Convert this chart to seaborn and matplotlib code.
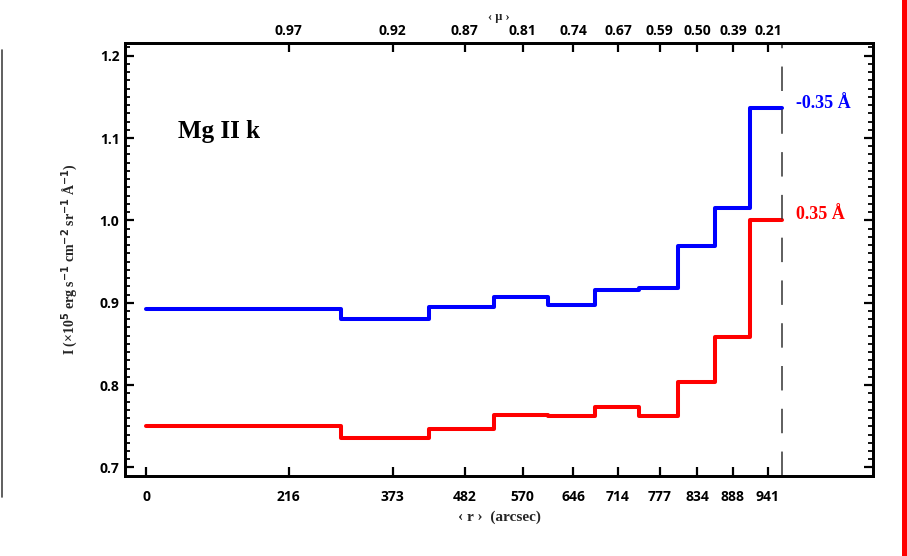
import numpy as np
import pandas as pd
import matplotlib
matplotlib.use("Agg")
import matplotlib.pyplot as plt
from matplotlib.ticker import MultipleLocator, FixedLocator
from matplotlib.patches import Rectangle
from matplotlib.lines import Line2D
import seaborn as sns

# ---- data ----
r_ticks = [0, 216, 373, 482, 570, 646, 714, 777, 834, 888, 941]
mu_labels = ["0.97", "0.92", "0.87", "0.81", "0.74", "0.67", "0.59", "0.50", "0.39", "0.21"]
limb_r = 962
blue_vals = [0.893, 0.880, 0.895, 0.907, 0.897, 0.916, 0.918, 0.969, 1.015, 1.136]
red_vals = [0.750, 0.736, 0.747, 0.764, 0.763, 0.773, 0.762, 0.804, 0.858, 1.000]
blue_label = "-0.35 Å"
red_label = "0.35 Å"

# bin edges: from disk centre, midpoints between bin centres, up to the limb
centres = r_ticks[1:]
edges = [r_ticks[0]] + [(a + b) / 2 for a, b in zip(centres[:-1], centres[1:])] + [limb_r]

df = pd.concat([
    pd.DataFrame({"r": edges, "I": blue_vals + [blue_vals[-1]], "s": blue_label}),
    pd.DataFrame({"r": edges, "I": red_vals + [red_vals[-1]], "s": red_label}),
])

sns.set_theme(style="ticks")
plt.rcParams["font.family"] = ["Liberation Serif", "DejaVu Serif"]

fig = plt.figure(figsize=(9.07, 5.56), dpi=100)
ax = fig.add_axes([125 / 907, 1 - 475.7 / 556, (873 - 125) / 907, (475.7 - 43.3) / 556])

sns.lineplot(data=df, x="r", y="I", hue="s", palette={blue_label: "#0000ff", red_label: "#ff0000"},
             drawstyle="steps-post", estimator=None, sort=True, linewidth=2.9, legend=False, ax=ax)

ax.axvline(limb_r, color="#333333", lw=1.1, linestyle=(0, (16, 12)))

ax.set_xlim(-32, 1100)
ax.set_ylim(0.69, 1.215)

tick_font = dict(family=["Open Sans", "DejaVu Sans"], weight="bold", size=10)
ax.xaxis.set_major_locator(FixedLocator(r_ticks))
ax.set_xticklabels([str(v) for v in r_ticks], **tick_font)
ax.yaxis.set_minor_locator(MultipleLocator(0.01))
ax.set_yticks([0.7, 0.8, 0.9, 1.0, 1.1, 1.2])
ax.set_yticklabels(["0.7", "0.8", "0.9", "1.0", "1.1", "1.2"], **tick_font)

ax.tick_params(axis="x", which="major", direction="in", length=6.5, width=1.6, pad=10, top=False, bottom=True, colors="black")
ax.tick_params(axis="y", which="major", direction="in", length=6.5, width=1.6, pad=4, left=True, right=True, colors="black")
ax.tick_params(axis="y", which="minor", direction="in", length=3.5, width=1.3, left=True, right=True, colors="black")
for sp in ax.spines.values():
    sp.set_linewidth(2.0)
    sp.set_color("black")
    sp.set_visible(True)

ax.set_xlabel("‹ r ›  (arcsec)", fontsize=11, fontweight="bold", labelpad=5)
ax.set_ylabel("I (×10$^{\\mathbf{5}}$ erg s$^{\\mathbf{-1}}$ cm$^{\\mathbf{-2}}$ sr$^{\\mathbf{-1}}$ Å$^{\\mathbf{-1}}$)",
              fontsize=10, fontweight="bold", labelpad=14)

ax2 = ax.twiny()
ax2.set_xlim(ax.get_xlim())
ax2.set_xticks(centres)
ax2.set_xticklabels(mu_labels, **tick_font)
ax2.tick_params(axis="x", direction="in", length=6.5, width=1.6, pad=4, colors="black")
ax2.set_xlabel("‹ μ ›", fontsize=9, fontweight="bold", labelpad=3)
for sp in ax2.spines.values():
    sp.set_linewidth(2.0)
    sp.set_color("black")

ax.text(0.071, 0.795, "Mg II k", transform=ax.transAxes, fontsize=18, fontweight="bold",
        ha="left", va="center", color="black")
ax.annotate(blue_label, xy=(limb_r, blue_vals[-1]), xytext=(10, 3.5), textcoords="offset points",
            color="#0000ff", fontsize=13, fontweight="bold", ha="left", va="center")
ax.annotate(red_label, xy=(limb_r, red_vals[-1]), xytext=(10, 4), textcoords="offset points",
            color="#ff0000", fontsize=13, fontweight="bold", ha="left", va="center")

# page-edge artefacts of the reference
fig.add_artist(Rectangle((901.5 / 907, 0), 0.02, 1, transform=fig.transFigure, color="#ff0000", lw=0))
fig.add_artist(Line2D([1.5 / 907, 1.5 / 907], [1 - 50 / 556, 1 - 497 / 556], transform=fig.transFigure,
                      color="#444444", lw=1.2))

fig.savefig("out.png", dpi=100)
